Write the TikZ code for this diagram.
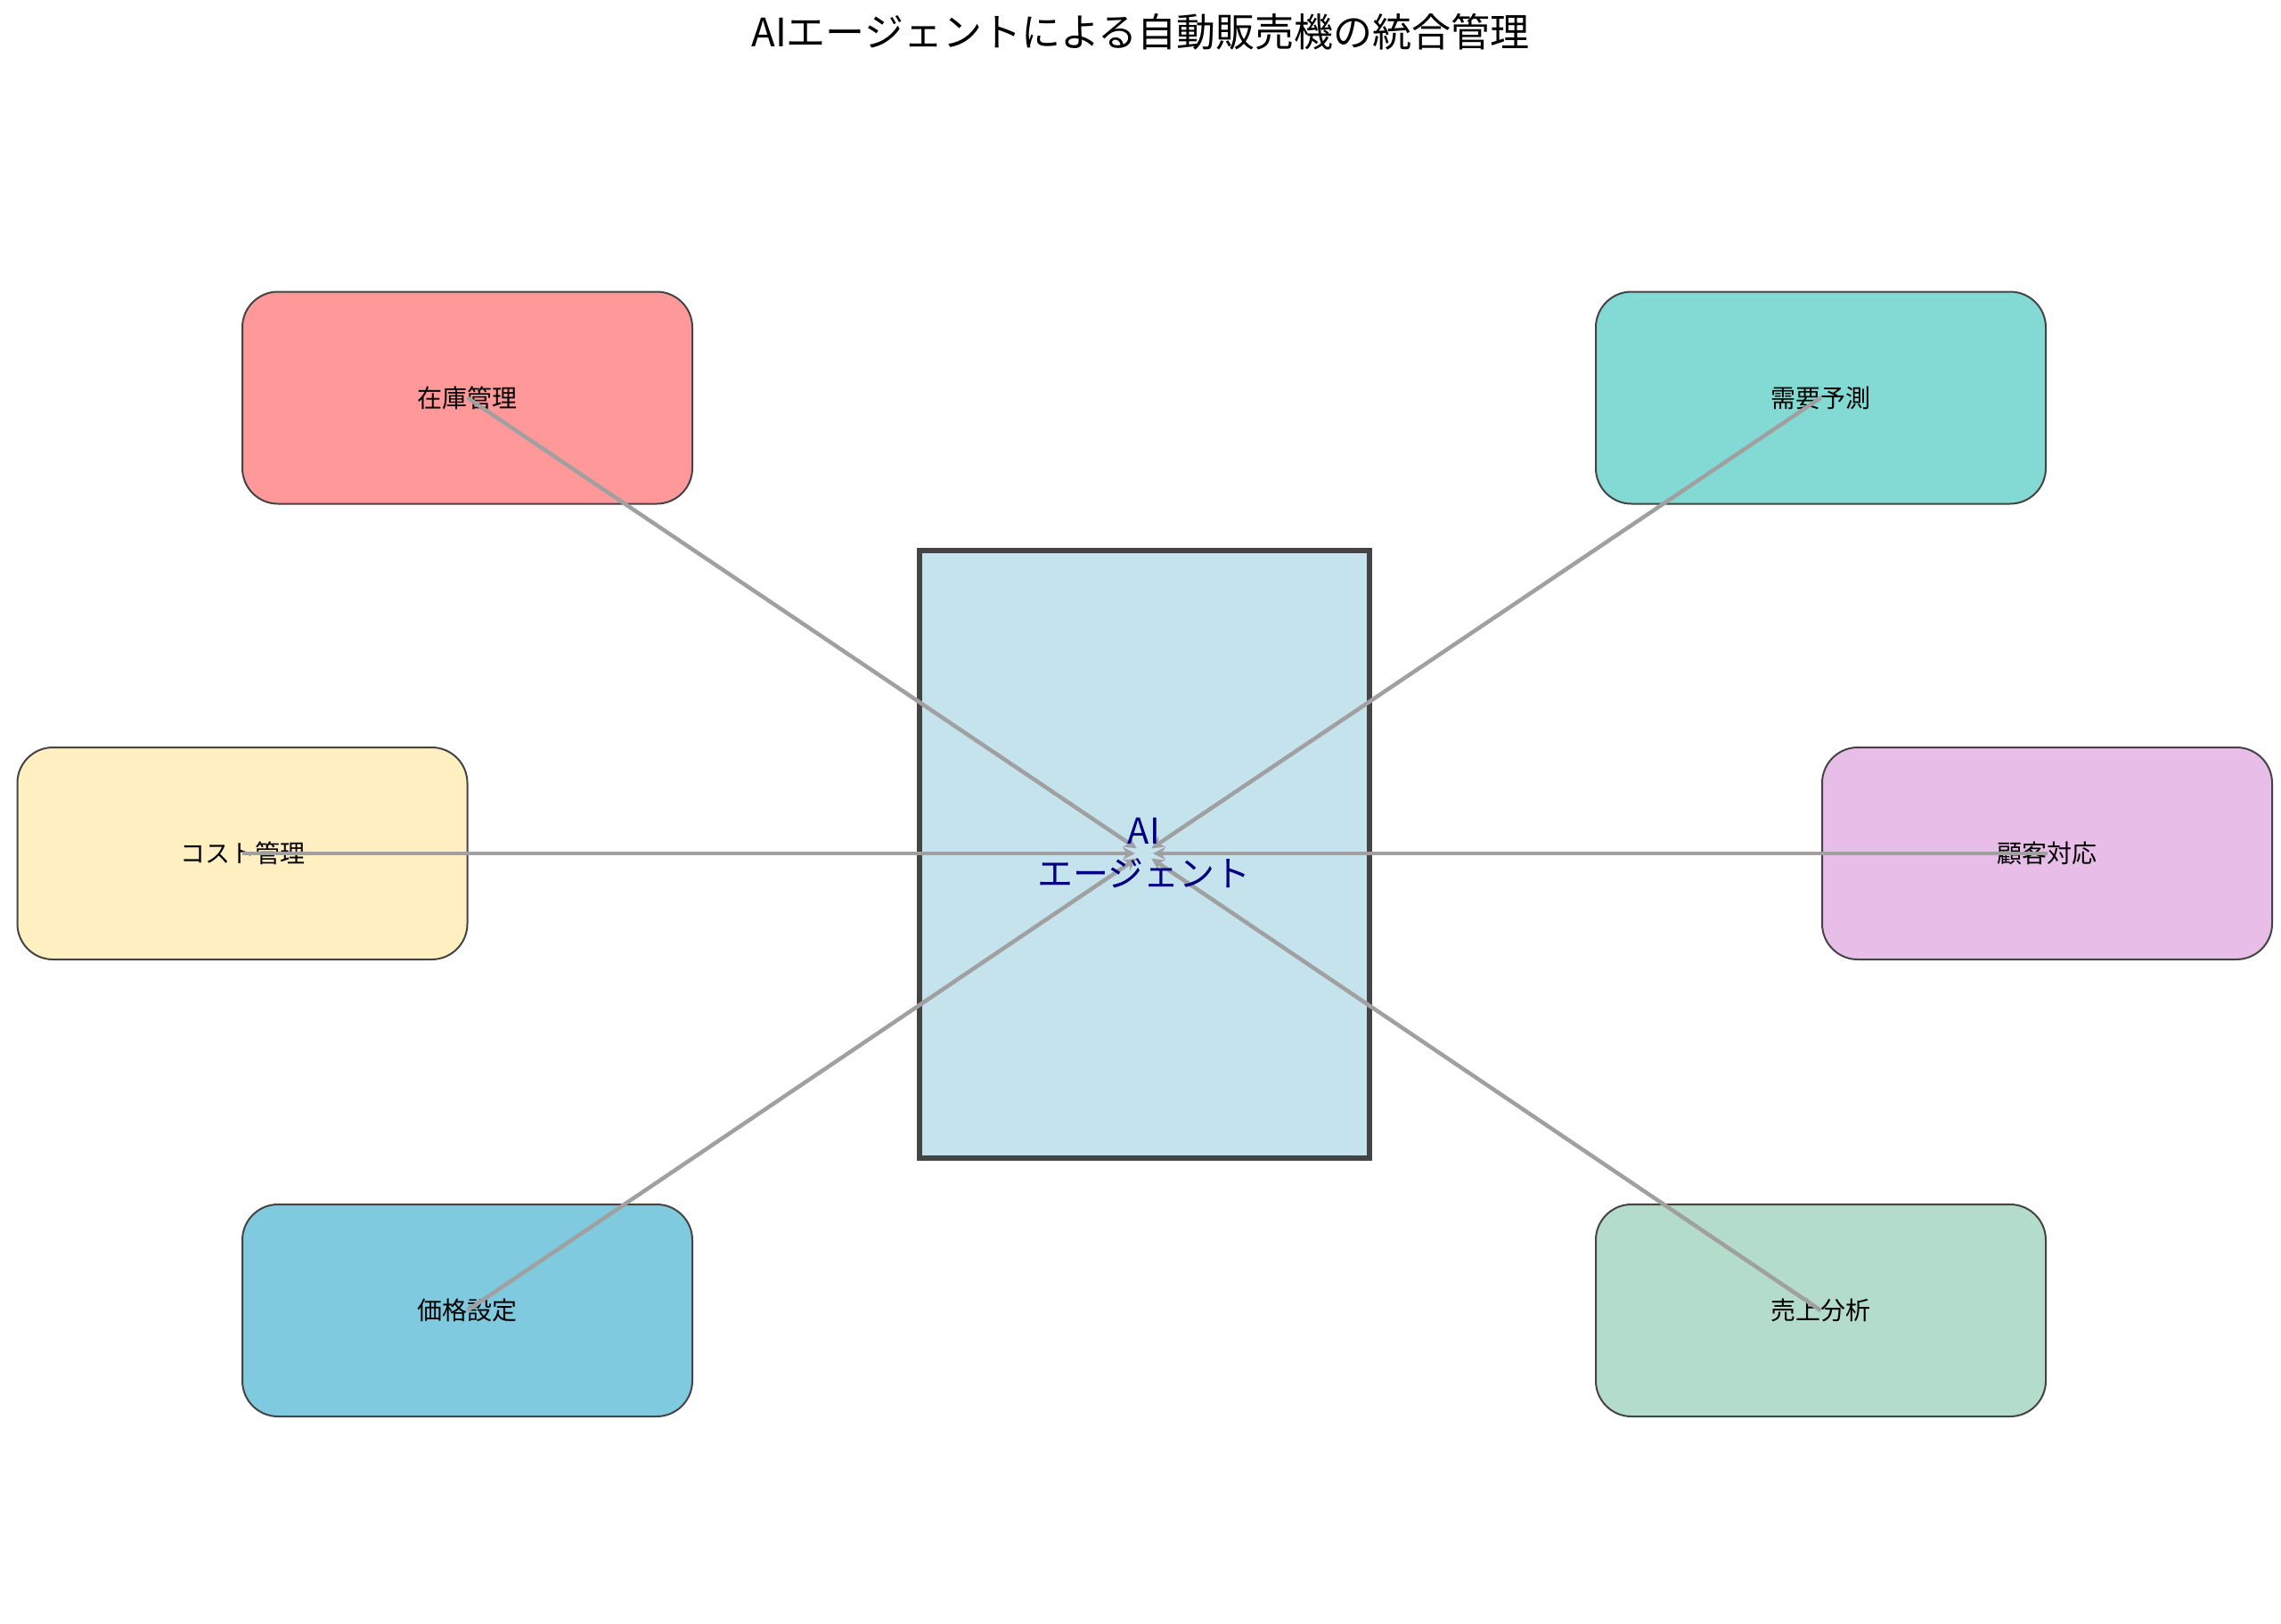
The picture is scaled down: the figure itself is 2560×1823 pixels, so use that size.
\documentclass[tikz,border=0pt]{standalone}
\usepackage{fontspec}
\setmainfont{Noto Sans CJK JP}
\usetikzlibrary{arrows.meta}
\definecolor{cr}{HTML}{FF9999}
\definecolor{ct}{HTML}{83DAD4}
\definecolor{cy}{HTML}{FFEFC1}
\definecolor{cp}{HTML}{E8BDE8}
\definecolor{cb}{HTML}{7FCADF}
\definecolor{cg}{HTML}{B4DCCB}
\definecolor{cc}{HTML}{C5E3ED}
\definecolor{bd}{HTML}{444444}
\definecolor{ln}{HTML}{A0A0A0}
\begin{document}
\begin{tikzpicture}[x=1pt,y=-1pt,
  task/.style={draw=bd,line width=2pt,rounded corners=40pt,minimum width=505pt,minimum height=238pt,font=\fontsize{28}{30}\selectfont,inner sep=0pt},
  link/.style={draw=ln,line width=4.5pt,-{Stealth[length=14pt,width=14pt]},shorten >=10pt}]
\useasboundingbox (0,0) rectangle (2560,1823);
\node[font=\fontsize{44}{50}\selectfont] (title) at (1280,36) {AIエージェントによる自動販売機の統合管理};
\node[draw=bd,line width=6pt,fill=cc,minimum width=505pt,minimum height=682pt] (ai) at (1284.5,959) {};
\node[task,fill=cr] (a) at (524.5,446.5) {在庫管理};
\node[task,fill=ct] (b) at (2043.5,446.5) {需要予測};
\node[task,fill=cy] (c) at (272,958) {コスト管理};
\node[task,fill=cp] (d) at (2297.5,958) {顧客対応};
\node[task,fill=cb] (e) at (524.5,1471) {価格設定};
\node[task,fill=cg] (f) at (2043.5,1471) {売上分析};
\coordinate (m) at (1284,958);
\foreach \n in {a,b,c,d,e,f} \draw[link] (\n.center) -- (m);
\node[text=blue!50!black,font=\fontsize{40}{48}\selectfont,align=center] (lbl) at (1284,958) {AI\\エージェント};
\end{tikzpicture}
\end{document}
